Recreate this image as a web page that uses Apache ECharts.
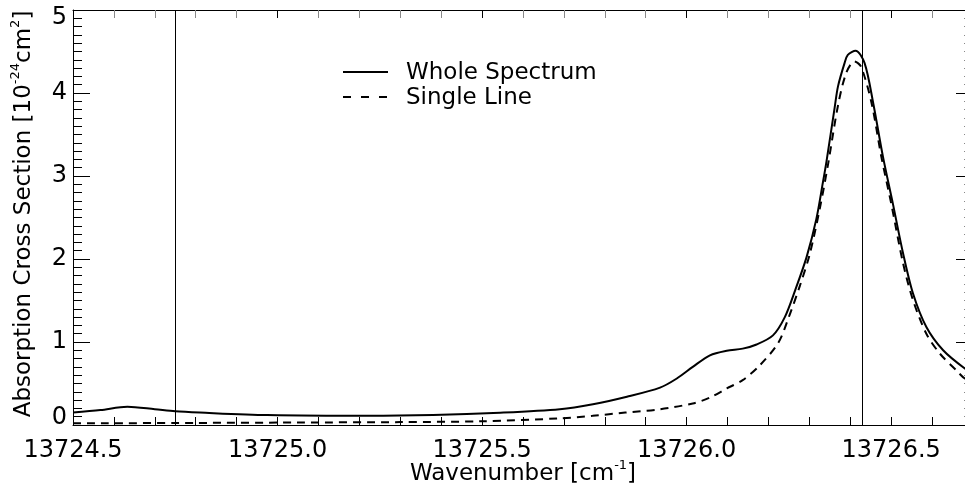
<!DOCTYPE html>
<html>
<head>
<meta charset="utf-8">
<script src="https://cdn.jsdelivr.net/npm/echarts@6/dist/echarts.min.js"></script>
<style>html,body{margin:0;padding:0;background:#fff;overflow:hidden;width:965px;height:495px;}#c{width:980px;height:495px;}</style>
</head>
<body>
<div id="c"></div>
<script>
// Whole spectrum (wavenumber, cross section)
const wholeX = [13724.50,13724.567,13724.633,13724.70,13724.75,13724.81,13724.975,13725.22,13725.38,13725.544,13725.69,13725.771,13725.854,13725.935,13725.976,13726.015,13726.057,13726.098,13726.137,13726.171,13726.211,13726.24,13726.265,13726.293,13726.317,13726.333,13726.342,13726.362,13726.370,13726.386,13726.394,13726.413,13726.435,13726.456,13726.480,13726.504,13726.529,13726.553,13726.586,13726.627,13726.680,13726.70];
const wholeY = [0.15,0.18,0.22,0.19,0.165,0.15,0.12,0.11,0.12,0.148,0.19,0.25,0.34,0.45,0.56,0.70,0.84,0.895,0.92,0.97,1.08,1.30,1.62,2.02,2.48,2.92,3.18,3.83,4.08,4.36,4.46,4.51,4.36,3.88,3.23,2.67,2.07,1.59,1.18,0.90,0.68,0.63];
// Single line
const singleX = [13724.50,13724.80,13725.05,13725.30,13725.50,13725.69,13725.77,13725.85,13725.935,13726.015,13726.057,13726.098,13726.137,13726.179,13726.224,13726.252,13726.277,13726.301,13726.326,13726.346,13726.370,13726.390,13726.410,13726.426,13726.452,13726.476,13726.500,13726.529,13726.553,13726.586,13726.619,13726.659,13726.680,13726.70];
const singleY = [0.02,0.025,0.03,0.035,0.045,0.08,0.11,0.15,0.19,0.26,0.33,0.44,0.54,0.72,0.99,1.33,1.68,2.06,2.62,3.15,3.85,4.24,4.38,4.32,3.88,3.23,2.67,1.95,1.51,1.10,0.86,0.66,0.56,0.53];
// Reference lines
const refLines = [13724.75, 13726.426];
const seriesNames = ['Whole Spectrum', 'Single Line'];

const pair = (xs, ys) => xs.map((x, i) => [x, ys[i]]);
const FONT = 'DejaVu Sans';
const chart = echarts.init(document.getElementById('c'), null, {renderer: 'canvas', width: 980, height: 495});
const axisCommon = {
  min: 13724.5, max: 13726.7, interval: 0.5,
  axisLine: {show: true, onZero: false, lineStyle: {color: '#000', width: 1}},
  splitLine: {show: false},
};
const supRich = {
  n: {fontFamily: FONT, fontSize: 23, fill: '#000', lineHeight: 28},
  s: {fontFamily: FONT, fontSize: 13, fill: '#000', lineHeight: 28, padding: [0,0,16,0]}
};
chart.setOption({
  animation: false,
  backgroundColor: '#fff',
  grid: {left: 73, top: 10, right: 7, bottom: 70, containLabel: false},
  xAxis: [
    Object.assign({type: 'value', position: 'bottom',
      axisTick: {show: true, inside: true, length: 8, lineStyle: {color: '#000'}},
      minorTick: {show: true, splitNumber: 5, length: 8, lineStyle: {color: '#000'}},
      axisLabel: {show: true, inside: false, margin: 14, fontFamily: FONT, fontSize: 24, color: '#000',
        formatter: v => v.toFixed(1), showMaxLabel: false}
    }, axisCommon),
    Object.assign({type: 'value', position: 'top',
      axisTick: {show: true, inside: true, length: 8, lineStyle: {color: '#000'}},
      minorTick: {show: true, splitNumber: 5, length: 8, lineStyle: {color: '#888'}},
      axisLabel: {show: false}
    }, axisCommon)
  ],
  yAxis: [0, 1].map(i => ({
    type: 'value', position: i === 0 ? 'left' : 'right', min: 0, max: 5, interval: 1,
    axisLine: {show: true, lineStyle: {color: '#000', width: 1}},
    axisTick: {show: true, inside: true, length: 17, lineStyle: {color: '#000'}},
    minorTick: {show: true, splitNumber: 10, length: 9, lineStyle: {color: i === 0 ? '#000' : '#888'}},
    splitLine: {show: false},
    axisLabel: i === 0 ? {show: true, margin: 6, fontFamily: FONT, fontSize: 24, color: '#000',
      formatter: v => v === 0 ? '{z|0}' : (v === 5 ? '{f|5}' : String(v)),
      rich: {z: {fontFamily: FONT, fontSize: 24, color: '#000', padding: [0,0,14,0]},
             f: {fontFamily: FONT, fontSize: 24, color: '#000', padding: [16,0,0,0]}}} : {show: false}
  })),
  graphic: [
    {type: 'text', x: 523, y: 474,
      style: {rich: supRich, text: '{n|Wavenumber [cm}{s|-1}{n|]}', align: 'center', verticalAlign: 'middle'}},
    {type: 'text', x: 24, y: 214, rotation: Math.PI / 2,
      style: {rich: supRich, text: '{n|Absorption Cross Section [10}{s|-24}{n|cm}{s|2}{n|]}', align: 'center', verticalAlign: 'middle'}},
    // legend
    {type: 'line', shape: {x1: 343, y1: 72, x2: 388, y2: 72}, style: {stroke: '#000', lineWidth: 2}},
    {type: 'text', x: 406, y: 73, style: {text: seriesNames[0], fontFamily: FONT, fontSize: 23, fill: '#000', verticalAlign: 'middle'}},
    {type: 'line', shape: {x1: 343, y1: 97, x2: 390, y2: 97}, style: {stroke: '#000', lineWidth: 2, lineDash: [8, 10]}},
    {type: 'text', x: 406, y: 98, style: {text: seriesNames[1], fontFamily: FONT, fontSize: 23, fill: '#000', verticalAlign: 'middle'}}
  ],
  series: [
    {name: seriesNames[0], type: 'line', data: pair(wholeX, wholeY), symbol: 'none', smooth: 0.3,
      lineStyle: {color: '#000', width: 2, type: 'solid'}, itemStyle: {color: '#000'},
      markLine: {silent: true, symbol: 'none', label: {show: false},
        lineStyle: {color: '#000', width: 1, type: 'solid'},
        data: refLines.map(v => ({xAxis: v}))}},
    {name: seriesNames[1], type: 'line', data: pair(singleX, singleY), symbol: 'none', smooth: 0.3,
      lineStyle: {color: '#000', width: 2, type: [8, 6]}, itemStyle: {color: '#000'}}
  ]
});
</script>
</body>
</html>
